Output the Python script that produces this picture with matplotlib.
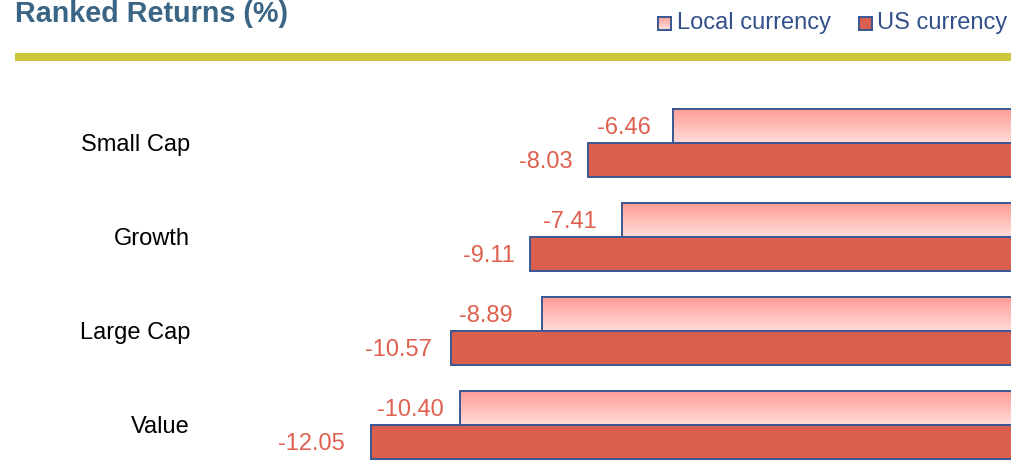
"""Ranked returns bar chart: local vs US currency."""

import numpy as np
import matplotlib

matplotlib.use('Agg')
from matplotlib import pyplot as plt
from matplotlib.patches import Rectangle

categories = ['Small Cap', 'Growth', 'Large Cap', 'Value']
local_currency = [-6.46, -7.41, -8.89, -10.40]
us_currency = [-8.03, -9.11, -10.57, -12.05]
series_names = ['Local currency', 'US currency']

W, H = 1011, 467
TITLE_COLOR = '#3B6585'
LEGEND_COLOR = '#34508A'
EDGE_COLOR = '#3A5792'
US_COLOR = '#DA5F4F'
LABEL_COLOR = '#E0604F'
RULE_COLOR = '#CDC53C'
GRAD_TOP = np.array([1.0, 0.615, 0.585])
GRAD_BOTTOM = np.array([1.0, 0.865, 0.855])
# pixel gap between a value label and its bar end, as placed in the source
LOCAL_GAPS = [22, 25, 29, 16]
US_GAPS = [16, 15, 19, 26]

plt.rcParams['font.family'] = ['Liberation Sans', 'DejaVu Sans']


def gradient(n=64):
    t = np.linspace(0, 1, n)[:, None, None]
    return GRAD_TOP * (1 - t) + GRAD_BOTTOM * t


def fx(px):
    return px / W


def fy(py):
    return 1 - py / H


fig = plt.figure(figsize=(W / 100, H / 100), dpi=100)
fig.patch.set_facecolor('white')

# header
fig.text(fx(15), fy(22.5), 'Ranked Returns (%)', fontsize=20.7, fontweight='bold',
         color=TITLE_COLOR, ha='left', va='baseline')
fig.add_artist(Rectangle((fx(15), fy(61)), fx(W - 15), 8 / H,
                         transform=fig.transFigure, facecolor=RULE_COLOR,
                         edgecolor='none'))

# legend
leg_items = [(658, 677, series_names[0], None), (859, 877, series_names[1], US_COLOR)]
for sq_x, txt_x, name, color in leg_items:
    lax = fig.add_axes([fx(sq_x), fy(29.5), 13 / W, 13 / H])
    if color is None:
        lax.imshow(gradient(), aspect='auto', extent=(0, 1, 0, 1))
    else:
        lax.set_facecolor(color)
    lax.set_xticks([])
    lax.set_yticks([])
    for spine in lax.spines.values():
        spine.set_edgecolor(EDGE_COLOR)
        spine.set_linewidth(1.4)
    fig.text(fx(txt_x), fy(29.5), name, fontsize=17, color=LEGEND_COLOR,
             ha='left', va='baseline')

# bars
ax = fig.add_axes([0, 0, 1, 387 / H])
ax.set_axis_off()
y = np.arange(len(categories))
bar_h = 0.36
local_bars = ax.barh(y - bar_h / 2, local_currency, height=bar_h,
                     facecolor='none', edgecolor=EDGE_COLOR, linewidth=1.4, zorder=3)
us_bars = ax.barh(y + bar_h / 2, us_currency, height=bar_h,
                  facecolor=US_COLOR, edgecolor=EDGE_COLOR, linewidth=1.4, zorder=3)

for bar in local_bars:
    x0, y0 = bar.get_x(), bar.get_y()
    img = ax.imshow(gradient(), aspect='auto', origin='upper', zorder=2,
                    extent=(x0, x0 + bar.get_width(), y0 + bar.get_height(), y0))
    img.set_clip_path(bar)

for bars, vals, gaps in ((local_bars, local_currency, LOCAL_GAPS),
                         (us_bars, us_currency, US_GAPS)):
    for bar, v, gap in zip(bars, vals, gaps):
        ax.annotate(f'{v:.2f}', xy=(v, bar.get_y() + bar.get_height() / 2),
                    xytext=(-gap, -8), textcoords='offset pixels',
                    ha='right', va='baseline', fontsize=17, color=LABEL_COLOR)

for yi, name in zip(y, categories):
    ax.annotate(name, xy=(190 / W, yi), xycoords=ax.get_yaxis_transform(),
                xytext=(0, -8.3), textcoords='offset pixels',
                ha='right', va='baseline', fontsize=17, color='black')

ax.set_xlim(-1022 / 54.03, -11 / 54.03)
ax.set_ylim((467 - 143) / 94, (80 - 143) / 94)

fig.savefig('out.png', dpi=100)
